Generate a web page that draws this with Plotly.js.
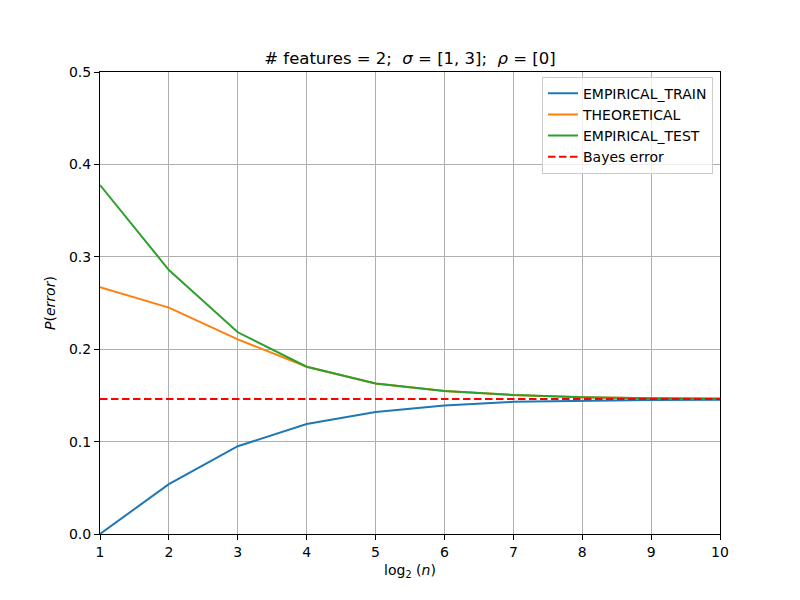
<!DOCTYPE html>
<html>
<head>
<meta charset="utf-8">
<script src="https://cdn.plot.ly/plotly-3.0.1.min.js"></script>
<style>body{margin:0;padding:0;background:#fff;}#chart{width:800px;height:600px;}</style>
</head>
<body>
<div id="chart"></div>
<script>
const logN = [1, 2, 3, 4, 5, 6, 7, 8, 9, 10];
const empiricalTrain = [0.000, 0.054, 0.095, 0.119, 0.132, 0.139, 0.143, 0.1443, 0.145, 0.1452];
const theoretical = [0.267, 0.245, 0.2107, 0.181, 0.163, 0.1548, 0.1504, 0.148, 0.1469, 0.1466];
const empiricalTest = [0.3777, 0.2857, 0.2183, 0.181, 0.163, 0.1548, 0.1504, 0.148, 0.1469, 0.1465];
const bayesError = 0.1461;
const seriesNames = ["EMPIRICAL_TRAIN", "THEORETICAL", "EMPIRICAL_TEST", "Bayes error"];

const font = "DejaVu Sans, sans-serif";
const traces = [
  {x: logN, y: empiricalTrain, name: seriesNames[0], mode: "lines", line: {color: "#1f77b4", width: 2}},
  {x: logN, y: theoretical, name: seriesNames[1], mode: "lines", line: {color: "#ff7f0e", width: 2}},
  {x: logN, y: empiricalTest, name: seriesNames[2], mode: "lines", line: {color: "#2ca02c", width: 2}},
  {x: [logN[0], logN[logN.length - 1]], y: [bayesError, bayesError], name: seriesNames[3], mode: "lines",
   line: {color: "red", width: 2, dash: "7.5px,3.5px"}}
];

const axisCommon = {
  showline: true, mirror: true, linecolor: "black", linewidth: 1,
  ticks: "outside", ticklen: 5, tickcolor: "black", tickwidth: 1,
  showgrid: true, gridcolor: "#b0b0b0", gridwidth: 1,
  zeroline: false, tickfont: {family: font, size: 14, color: "black"}
};

const layout = {
  width: 800, height: 600,
  margin: {l: 100, r: 80, t: 72, b: 66},
  paper_bgcolor: "white", plot_bgcolor: "white",
  font: {family: font, color: "black"},
  showlegend: true,
  title: {
    text: "# features = 2;  <i>σ</i> = [1, 3];  <i>ρ</i> = [0]",
    font: {family: font, size: 16.5, color: "black"},
    x: 0.5125, xanchor: "center", xref: "container",
    y: 1 - 58 / 600, yanchor: "middle", yref: "container"
  },
  xaxis: Object.assign({}, axisCommon, {
    range: [1, 10], tickvals: logN, ticktext: logN.map(String),
    title: {text: "log<sub>2</sub> (<i>n</i>)", font: {family: font, size: 14}, standoff: 6}
  }),
  yaxis: Object.assign({}, axisCommon, {
    range: [0, 0.5], tickvals: [0, 0.1, 0.2, 0.3, 0.4, 0.5], tickformat: ".1f",
    title: {text: "<i>P</i>(<i>error</i>)", font: {family: font, size: 14}, standoff: 10}
  }),
  legend: {
    x: 0.9887, xanchor: "right", y: 0.99, yanchor: "top",
    bgcolor: "rgba(255,255,255,0.8)", bordercolor: "#cccccc", borderwidth: 1,
    font: {family: font, size: 14, color: "black"}, tracegroupgap: 0
  }
};

Plotly.newPlot("chart", traces, layout, {displayModeBar: false, staticPlot: true});
</script>
</body>
</html>
